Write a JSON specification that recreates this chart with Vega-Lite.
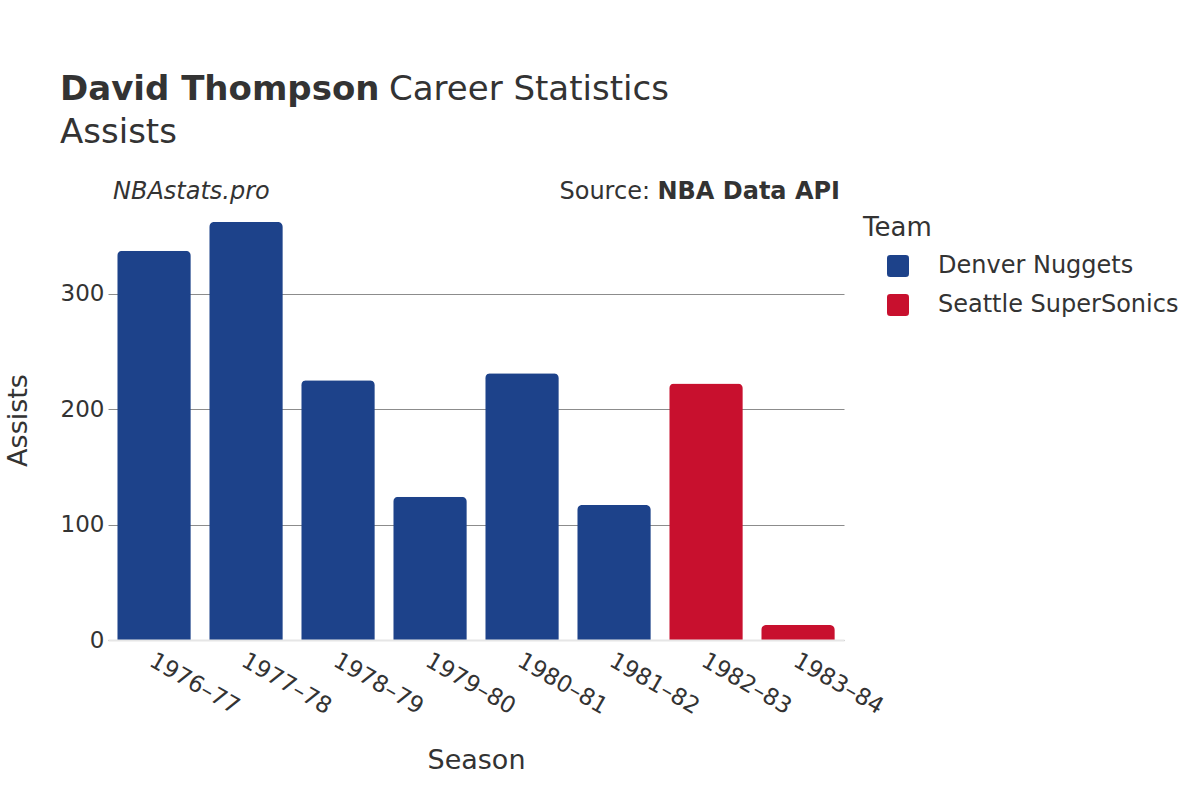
{
  "$schema": "https://vega.github.io/schema/vega-lite/v6.json",
  "width": 736,
  "height": 440,
  "autosize": {"type": "none"},
  "padding": {"left": 108, "top": 200, "right": 356, "bottom": 160},
  "background": "white",
  "config": {
    "font": "DejaVu Sans",
    "view": {"stroke": null},
    "text": {"font": "DejaVu Sans", "color": "#333333"}
  },
  "layer": [
    {
      "data": {
        "values": [
          {"Season": "1976–77", "Team": "Denver Nuggets", "Assists": 337},
          {"Season": "1977–78", "Team": "Denver Nuggets", "Assists": 362},
          {"Season": "1978–79", "Team": "Denver Nuggets", "Assists": 225},
          {"Season": "1979–80", "Team": "Denver Nuggets", "Assists": 124},
          {"Season": "1980–81", "Team": "Denver Nuggets", "Assists": 231},
          {"Season": "1981–82", "Team": "Denver Nuggets", "Assists": 117},
          {"Season": "1982–83", "Team": "Seattle SuperSonics", "Assists": 222},
          {"Season": "1983–84", "Team": "Seattle SuperSonics", "Assists": 13}
        ]
      },
      "mark": {"type": "bar", "cornerRadiusTopLeft": 5, "cornerRadiusTopRight": 5},
      "encoding": {
        "x": {
          "field": "Season",
          "type": "nominal",
          "sort": null,
          "scale": {"paddingInner": 0.2, "paddingOuter": 0.1},
          "axis": {
            "title": "Season",
            "titleFont": "DejaVu Sans",
            "titleFontSize": 27,
            "titleFontWeight": "normal",
            "titleColor": "#333333",
            "titleBaseline": "alphabetic",
            "titleY": 128,
            "labelAngle": 30,
            "labelAlign": "left",
            "labelBaseline": "top",
            "labelFontSize": 23,
            "labelColor": "#333333",
            "labelPadding": 9,
            "labelOffset": 3,
            "ticks": false,
            "domainColor": "#e6e6e6",
            "domainWidth": 2,
            "zindex": 1
          }
        },
        "y": {
          "field": "Assists",
          "type": "quantitative",
          "scale": {"domain": [0, 381], "nice": false},
          "axis": {
            "title": "Assists",
            "titleFont": "DejaVu Sans",
            "titleFontSize": 27,
            "titleFontWeight": "normal",
            "titleColor": "#333333",
            "titleBaseline": "alphabetic",
            "titleAlign": "center",
            "titleAngle": -90,
            "titleX": -82,
            "titleY": 220,
            "values": [0, 100, 200, 300],
            "labelFontSize": 23,
            "labelColor": "#333333",
            "labelPadding": 4,
            "ticks": false,
            "domain": false,
            "gridColor": "#8c8c8c",
            "gridWidth": 1
          }
        },
        "color": {
          "field": "Team",
          "type": "nominal",
          "scale": {"domain": ["Denver Nuggets", "Seattle SuperSonics"], "range": ["#1D428A", "#C8102E"]},
          "legend": {
            "title": "Team",
            "orient": "none",
            "legendX": 755,
            "legendY": 15,
            "padding": 0,
            "titleFont": "DejaVu Sans",
            "titleFontSize": 26,
            "titleFontWeight": "normal",
            "titleColor": "#333333",
            "titlePadding": 13,
            "labelFont": "DejaVu Sans",
            "labelFontSize": 24,
            "labelColor": "#333333",
            "labelLimit": 400,
            "labelOffset": 28,
            "symbolOffset": 23,
            "symbolSize": 484,
            "symbolType": "M -0.7 -1 L 0.7 -1 Q 1 -1 1 -0.7 L 1 0.7 Q 1 1 0.7 1 L -0.7 1 Q -1 1 -1 0.7 L -1 -0.7 Q -1 -1 -0.7 -1 Z",
            "symbolStrokeWidth": 0,
            "rowPadding": 15
          }
        }
      }
    },
    {
      "data": {"values": [{"label": "David Thompson"}]},
      "mark": {"type": "text", "x": -48, "y": -100, "align": "left", "baseline": "alphabetic", "fontSize": 34, "fontWeight": "bold", "color": "#333333"},
      "encoding": {"text": {"field": "label"}}
    },
    {
      "data": {"values": [{"label": "Career Statistics"}]},
      "mark": {"type": "text", "x": 281, "y": -100, "align": "left", "baseline": "alphabetic", "fontSize": 34, "color": "#333333"},
      "encoding": {"text": {"field": "label"}}
    },
    {
      "data": {"values": [{"label": "Assists"}]},
      "mark": {"type": "text", "x": -48, "y": -57, "align": "left", "baseline": "alphabetic", "fontSize": 34, "color": "#333333"},
      "encoding": {"text": {"field": "label"}}
    },
    {
      "data": {"values": [{"label": "NBAstats.pro"}]},
      "mark": {"type": "text", "x": 5, "y": -1, "align": "left", "baseline": "alphabetic", "fontSize": 24, "fontStyle": "italic", "color": "#333333"},
      "encoding": {"text": {"field": "label"}}
    },
    {
      "data": {"values": [{"label": "Source:"}]},
      "mark": {"type": "text", "x": 542, "y": -1, "align": "right", "baseline": "alphabetic", "fontSize": 24, "color": "#333333"},
      "encoding": {"text": {"field": "label"}}
    },
    {
      "data": {"values": [{"label": "NBA Data API"}]},
      "mark": {"type": "text", "x": 732, "y": -1, "align": "right", "baseline": "alphabetic", "fontSize": 24, "fontWeight": "bold", "color": "#333333"},
      "encoding": {"text": {"field": "label"}}
    }
  ]
}
